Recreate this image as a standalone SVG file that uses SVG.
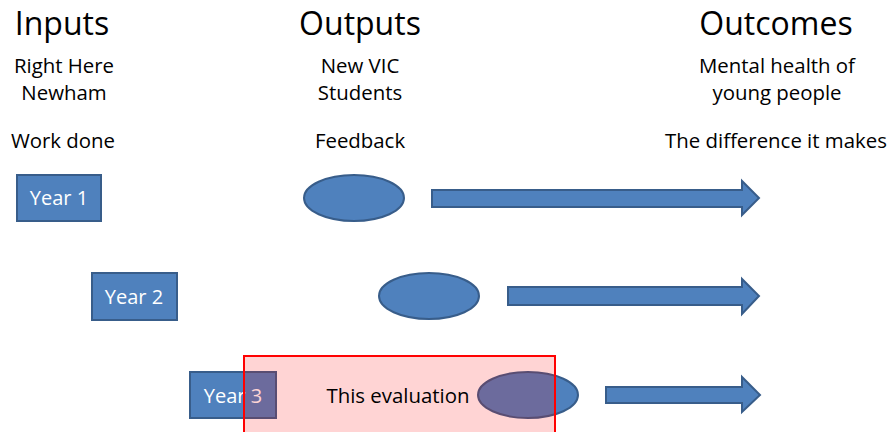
<svg xmlns="http://www.w3.org/2000/svg" width="891" height="432" viewBox="0 0 891 432">
<style>
text{font-family:"Open Sans","Liberation Sans",sans-serif;fill:#000}
.h{font-size:32px;text-anchor:middle}
.s{font-size:20.4px;text-anchor:middle}
.shape{fill:#4F81BD;stroke:#385D8A;stroke-width:2}
.lbl{font-size:20px;fill:#fff;text-anchor:middle}
</style>
<rect width="891" height="432" fill="#fff"/>
<g id="headers">
<text class="h" x="62" y="35">Inputs</text>
<text class="h" x="360" y="35">Outputs</text>
<text class="h" x="776" y="35">Outcomes</text>
<text class="s" x="64" y="73">Right Here</text>
<text class="s" x="64" y="100">Newham</text>
<text class="s" x="63" y="148">Work done</text>
<text class="s" x="360" y="73">New VIC</text>
<text class="s" x="360" y="100">Students</text>
<text class="s" x="360" y="148">Feedback</text>
<text class="s" x="777" y="73">Mental health of</text>
<text class="s" x="777" y="100">young people</text>
<text class="s" x="776" y="148">The difference it makes</text>
</g>
<g id="year1">
<rect class="shape" x="17" y="175" width="84" height="46"/>
<text class="lbl" x="59" y="205">Year 1</text>
</g>
<g id="output1"><ellipse class="shape" cx="354" cy="198" rx="50" ry="23"/></g>
<g id="year2">
<rect class="shape" x="92" y="273" width="85" height="47"/>
<text class="lbl" x="134" y="304">Year 2</text>
</g>
<g id="output2"><ellipse class="shape" cx="429" cy="296" rx="50" ry="23"/></g>
<g id="year3">
<rect class="shape" x="190" y="372" width="86" height="46"/>
<text class="lbl" x="233" y="403">Year 3</text>
</g>
<g id="output3"><ellipse class="shape" cx="528" cy="395" rx="50" ry="23"/></g>
<g id="connectors">
<polygon class="shape" points="432,190 742,190 742,181 759,198 742,215 742,207 432,207"/>
<polygon class="shape" points="508,287 742,287 742,279 759,296 742,314 742,305 508,305"/>
<polygon class="shape" points="606,387 742,387 742,377 760,395 742,412 742,403 606,403"/>
</g>
<g id="evaluation">
<rect x="244" y="356" width="311" height="90" fill="#FF0000" fill-opacity="0.17" stroke="#FF0000" stroke-width="2"/>
<text x="398" y="403" style="font-size:20.4px;text-anchor:middle">This evaluation</text>
</g>
</svg>
